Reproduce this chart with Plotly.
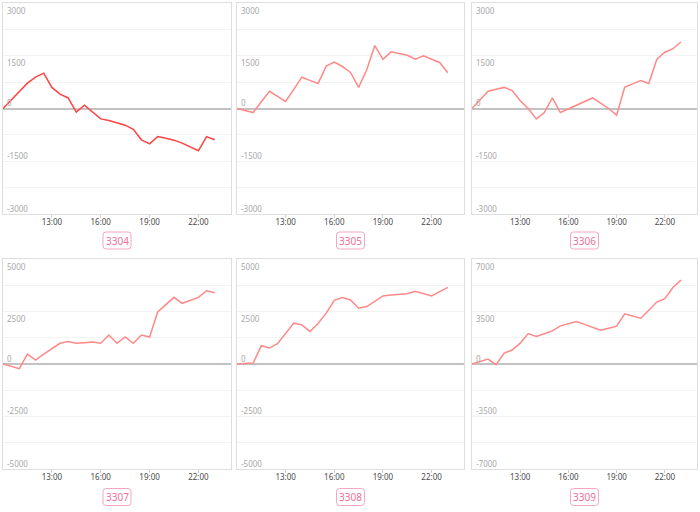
import plotly.graph_objects as go

# ---- data ----
times = ["10:00", "10:30", "11:00", "11:30", "12:00", "12:30", "13:00", "13:30", "14:00",
         "14:30", "15:00", "15:30", "16:00", "16:30", "17:00", "17:30", "18:00", "18:30",
         "19:00", "19:30", "20:00", "20:30", "21:00", "21:30", "22:00", "22:30", "23:00"]

codes = ["3304", "3305", "3306", "3307", "3308", "3309"]

pnl_3304 = [0, 240, 480, 720, 890, 1005, 600, 410, 300, -105, 95, -100, -295, -340, -400,
            -475, -590, -890, -1005, -800, -845, -900, -985, -1090, -1200, -800, -890]
pnl_3305 = [0, -60, -115, 190, 490, 345, 200, 545, 890, 800, 710, 1205, 1320, 1195, 1025,
            600, 1100, 1790, 1400, 1610, 1565, 1515, 1400, 1500, 1400, 1310, 1015]
pnl_3306 = [0, 250, 493, 550, 600, 510, 218, 0, -295, -115, 300, -115, -10, 95, 200,
            300, 150, 0, -190, 600, 700, 795, 710, 1400, 1600, 1700, 1890]
pnl_3307 = [0, -110, -220, 475, 190, 470, 745, 985, 1065, 985, 1015, 1050, 985, 1380, 985,
            1285, 985, 1380, 1285, 2475, 2825, 3175, 2890, 3030, 3175, 3490, 3395]
pnl_3308 = [0, 25, 50, 870, 760, 965, 1470, 1945, 1865, 1550, 1930, 2420, 3035, 3160, 3050,
            2655, 2735, 3000, 3240, 3280, 3320, 3350, 3460, 3365, 3240, 3445, 3650]
pnl_3309 = [0, 165, 330, -45, 730, 930, 1390, 2030, 1835, 2020, 2210, 2540, 2690, 2830, 2640,
            2450, 2255, 2390, 2520, 3340, 3200, 3050, 3580, 4130, 4350, 5100, 5590]

series = [pnl_3304, pnl_3305, pnl_3306, pnl_3307, pnl_3308, pnl_3309]
y_limits = [3000, 3000, 3000, 5000, 5000, 7000]
x_tick_labels = ["13:00", "16:00", "19:00", "22:00"]

# ---- layout ----
W, H = 700, 512
DAY = "2024-01-01 "
x_vals = [DAY + t for t in times]
x_range = [DAY + "10:00", "2024-01-02 00:00"]

col_px = [(3, 231), (237, 464), (472, 697)]
row_px = [(3, 214), (259, 469)]
box_cy = [240.5, 497]

line_colors = ["#ff4242", "#ff8888", "#ff8888", "#ff8888", "#ff8888", "#ff8888"]
FONT = "Noto Sans"

fig = go.Figure()
layout = dict(
    width=W, height=H,
    margin=dict(l=0, r=0, t=0, b=0),
    paper_bgcolor="white", plot_bgcolor="white",
    showlegend=False,
    font=dict(family=FONT),
)
annotations = []
shapes = []

def rounded_rect(cx, cy, w, h, r):
    x0, x1 = (cx - w / 2) / W, (cx + w / 2) / W
    y0, y1 = 1 - (cy + h / 2) / H, 1 - (cy - h / 2) / H
    rx, ry = r / W, r / H
    return (f"M {x0+rx},{y1} L {x1-rx},{y1} Q {x1},{y1} {x1},{y1-ry} "
            f"L {x1},{y0+ry} Q {x1},{y0} {x1-rx},{y0} "
            f"L {x0+rx},{y0} Q {x0},{y0} {x0},{y0+ry} "
            f"L {x0},{y1-ry} Q {x0},{y1} {x0+rx},{y1} Z")

for i, (code, vals, lim) in enumerate(zip(codes, series, y_limits)):
    n = i + 1
    r, c = divmod(i, 3)
    xs = "" if n == 1 else str(n)
    xa, ya = "xaxis" + xs, "yaxis" + xs
    xd = [col_px[c][0] / W, col_px[c][1] / W]
    yd = [1 - row_px[r][1] / H, 1 - row_px[r][0] / H]

    fig.add_trace(go.Scatter(
        x=x_vals, y=vals, mode="lines",
        line=dict(color=line_colors[i], width=1.5),
        xaxis="x" + xs, yaxis="y" + xs, hoverinfo="skip",
    ))

    layout[xa] = dict(
        domain=xd, anchor="y" + xs, type="date", range=x_range,
        tickvals=[DAY + t for t in x_tick_labels], ticktext=x_tick_labels,
        showgrid=False, zeroline=False,
        showline=True, mirror=True, linecolor="#dedede", linewidth=1,
        ticks="outside", ticklen=3, tickcolor="#d0d0d0",
        ticklabelstandoff=-3,
        tickfont=dict(size=8, color="#4a4a4a", family=FONT),
        automargin=False, fixedrange=True,
    )
    layout[ya] = dict(
        domain=yd, anchor="x" + xs, range=[-lim, lim],
        dtick=lim / 4, tick0=0,
        showgrid=True, gridcolor="#f3f3f3", gridwidth=1,
        zeroline=True, zerolinecolor="#c2c2c2", zerolinewidth=1.6,
        showline=True, mirror=True, linecolor="#dedede", linewidth=1,
        showticklabels=False, ticks="",
        automargin=False, fixedrange=True,
    )

    # y tick labels drawn inside the plot, next to their gridline values
    for v in [lim, lim // 2, 0, -lim // 2, -lim]:
        annotations.append(dict(
            xref="x" + xs + " domain", yref="y" + xs,
            x=0, y=v, xanchor="left", yanchor="middle",
            xshift=2, yshift=(-7 if v > 0 else 6),
            text=str(v), showarrow=False,
            font=dict(size=8, color="#a8a8a8", family=FONT),
        ))

    # code label box under each panel
    cx = (col_px[c][0] + col_px[c][1]) / 2
    cy = box_cy[r]
    shapes.append(dict(
        type="path", xref="paper", yref="paper",
        path=rounded_rect(cx, cy, 28, 17, 3),
        line=dict(color="#f6a6c1", width=1), fillcolor="white",
    ))
    annotations.append(dict(
        xref="paper", yref="paper", x=cx / W, y=1 - cy / H,
        xanchor="center", yanchor="middle", text=code, showarrow=False,
        font=dict(size=10, color="#ee6f98", family=FONT),
    ))

layout["annotations"] = annotations
layout["shapes"] = shapes
fig.update_layout(**layout)
fig.write_html(
    "out.html",
    config={"displayModeBar": False},
    post_script="document.body.style.margin='0';document.body.style.padding='0';",
)
